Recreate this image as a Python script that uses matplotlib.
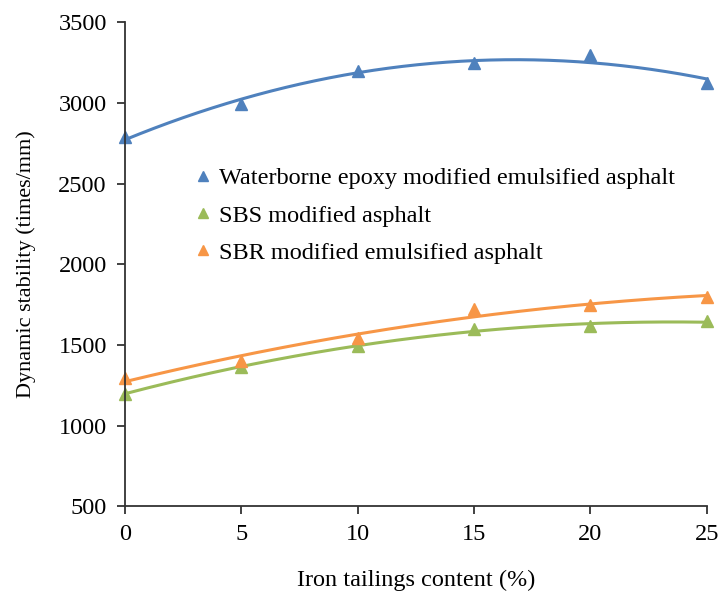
import numpy as np
import matplotlib.pyplot as plt

plt.rcParams['font.family'] = ['Liberation Serif', 'DejaVu Serif']

# 铁尾矿掺量 (%)
content = [0, 5, 10, 15, 20, 25]

# 动稳定度 (次/mm)
epoxy = [2790, 2990, 3195, 3245, 3295, 3125]
sbs = [1197, 1365, 1490, 1598, 1617, 1645]
sbr = [1293, 1401, 1543, 1722, 1748, 1797]

labels = ['Waterborne epoxy modified emulsified asphalt',
          'SBS modified asphalt',
          'SBR modified emulsified asphalt']
colors = ['#4F81BD', '#9BBB59', '#F79646']

fig = plt.figure(figsize=(7.22, 5.92), dpi=100)
ax = fig.add_axes([0.173, 0.145, 0.806, 0.8175])

xs = np.linspace(0, 25, 200)
for vals, lab, c in zip([epoxy, sbs, sbr], labels, colors):
    # 2차 다항식 추세선
    coef = np.polyfit(content, vals, 2)
    ax.plot(xs, np.polyval(coef, xs), color=c, lw=2.2, clip_on=False)
    ax.plot(content, vals, '^', color=c, ms=8.5, label=lab, clip_on=False,
            linestyle='none')

ax.set_xlim(0, 25)
ax.set_ylim(500, 3500)
ax.set_xticks(content)
ax.set_yticks(range(500, 3501, 500))
for s in ['top', 'right']:
    ax.spines[s].set_visible(False)
for s in ['left', 'bottom']:
    ax.spines[s].set_linewidth(1.3)
    ax.spines[s].set_color('#333333')
ax.tick_params(direction='out', length=6, width=1.3, color='#333333',
               labelsize=17.5, pad=7)
ax.set_xlabel('Iron tailings content (%)', fontsize=17.5, labelpad=18)
ax.set_ylabel('Dynamic stability (times/mm)', fontsize=16, labelpad=16)

ax.legend(loc='upper left', bbox_to_anchor=(0.105, 0.72), frameon=False,
          fontsize=17.5, handlelength=0.6, handletextpad=0.35,
          labelspacing=0.62, borderaxespad=0, markerscale=0.85)

fig.savefig('out.png', dpi=100)
